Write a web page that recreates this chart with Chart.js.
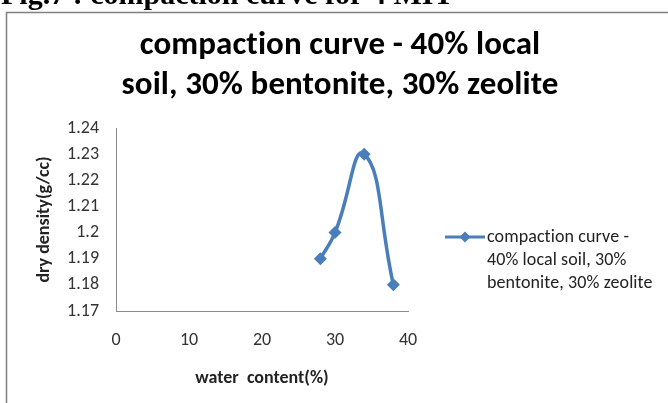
<!DOCTYPE html>
<html lang="en">
<head>
  <meta charset="UTF-8" />
  <title>Compaction curve</title>
  <script src="https://cdn.jsdelivr.net/npm/chart.js"></script>
  <style>
    * { box-sizing: border-box; }
    body { margin: 0; background: #fff; }
    #wrap { position: relative; width: 668px; height: 403px; overflow: hidden; }
  </style>
</head>
<body>
  <div id="wrap"><canvas id="chart" width="668" height="403"></canvas></div>

  <script>
    // data
    const waterContent = [28, 30, 34, 38];
    const dryDensity = [1.19, 1.20, 1.23, 1.18];
    const xTicks = [0, 10, 20, 30, 40];
    const yTicks = [1.17, 1.18, 1.19, 1.20, 1.21, 1.22, 1.23, 1.24];
    const seriesName = 'compaction curve - 40% local soil, 30% bentonite, 30% zeolite';
    const legendLines = ['compaction curve -', '40% local soil, 30%', 'bentonite, 30% zeolite'];
    const titleLines = ['compaction curve - 40% local', 'soil, 30% bentonite, 30% zeolite'];
    const figCaption = 'Fig.7 : compaction curve for 4 MIT';

    const FONT = "Carlito, 'Liberation Sans Narrow', 'DejaVu Sans Condensed', 'Liberation Sans', sans-serif";
    const BLUE = '#4A7EBB';

    const frame = {
      id: 'frame',
      beforeDraw(chart) {
        const ctx = chart.ctx;
        ctx.save();
        ctx.fillStyle = '#000';
        ctx.font = "bold 30px 'Liberation Serif', serif";
        ctx.textBaseline = 'alphabetic';
        ctx.fillText(figCaption, 1, 4);
        ctx.strokeStyle = '#808080';
        ctx.lineWidth = 1.5;
        ctx.strokeRect(6.5, 12.5, 720, 500);
        ctx.restore();
      },
      afterDraw(chart) {
        const ctx = chart.ctx;
        ctx.save();
        ctx.letterSpacing = '0.1px'; // keeps "ti" from joining
        ctx.fillStyle = '#000';
        ctx.textAlign = 'center';
        ctx.textBaseline = 'middle';
        ctx.font = 'bold 33px ' + FONT;
        ctx.fillText(titleLines[0], 340, 46);
        ctx.fillText(titleLines[1], 340, 86);

        // legend
        const ly = 237;
        ctx.strokeStyle = BLUE;
        ctx.lineWidth = 3;
        ctx.beginPath();
        ctx.moveTo(445, ly);
        ctx.lineTo(485, ly);
        ctx.stroke();
        ctx.fillStyle = BLUE;
        ctx.beginPath();
        ctx.moveTo(465, ly - 5.5);
        ctx.lineTo(470.5, ly);
        ctx.lineTo(465, ly + 5.5);
        ctx.lineTo(459.5, ly);
        ctx.closePath();
        ctx.fill();
        ctx.fillStyle = '#222';
        ctx.textAlign = 'left';
        ctx.font = '18px ' + FONT;
        legendLines.forEach((t, i) => ctx.fillText(t, 487, ly + i * 23));
        ctx.restore();
      }
    };

    new Chart(document.getElementById('chart'), {
      type: 'line',
      data: {
        datasets: [{
          label: seriesName,
          data: waterContent.map((x, i) => ({ x: x, y: dryDensity[i] })),
          borderColor: BLUE,
          backgroundColor: BLUE,
          borderWidth: 3.5,
          tension: 0.5,
          pointStyle: 'rectRot',
          pointRadius: 6.5,
          pointBorderWidth: 0,
          clip: false
        }]
      },
      options: {
        responsive: false,
        animation: false,
        layout: { padding: { top: 128, left: 0, right: 260, bottom: 0 } },
        plugins: { legend: { display: false }, title: { display: false }, tooltip: { enabled: false } },
        scales: {
          x: {
            type: 'linear',
            min: 0, max: 40,
            afterBuildTicks: s => { s.ticks = xTicks.map(v => ({ value: v })); },
            afterFit: s => { s.height = 92; },
            grid: { display: false, drawTicks: false },
            border: { color: '#8c8c8c', width: 1 },
            ticks: { padding: 19, color: '#333', font: { family: FONT, size: 18 }, maxRotation: 0 },
            title: { display: true, text: 'water  content(%)', color: '#222', font: { family: FONT, size: 18, weight: 'bold' }, padding: { top: 0, bottom: 14 } }
          },
          y: {
            min: 1.17, max: 1.24,
            afterBuildTicks: s => { s.ticks = yTicks.map(v => ({ value: v })); },
            afterFit: s => { s.width = 116; },
            grid: { display: false, drawTicks: false },
            border: { color: '#8c8c8c', width: 1 },
            ticks: { padding: 17, color: '#333', font: { family: FONT, size: 18 }, callback: v => String(Math.round(v * 100) / 100) },
            title: { display: true, text: 'dry density(g/cc)', color: '#222', font: { family: FONT, size: 18, weight: 'bold' }, padding: { top: 34, bottom: 0 } }
          }
        }
      },
      plugins: [frame]
    });
  </script>
</body>
</html>
